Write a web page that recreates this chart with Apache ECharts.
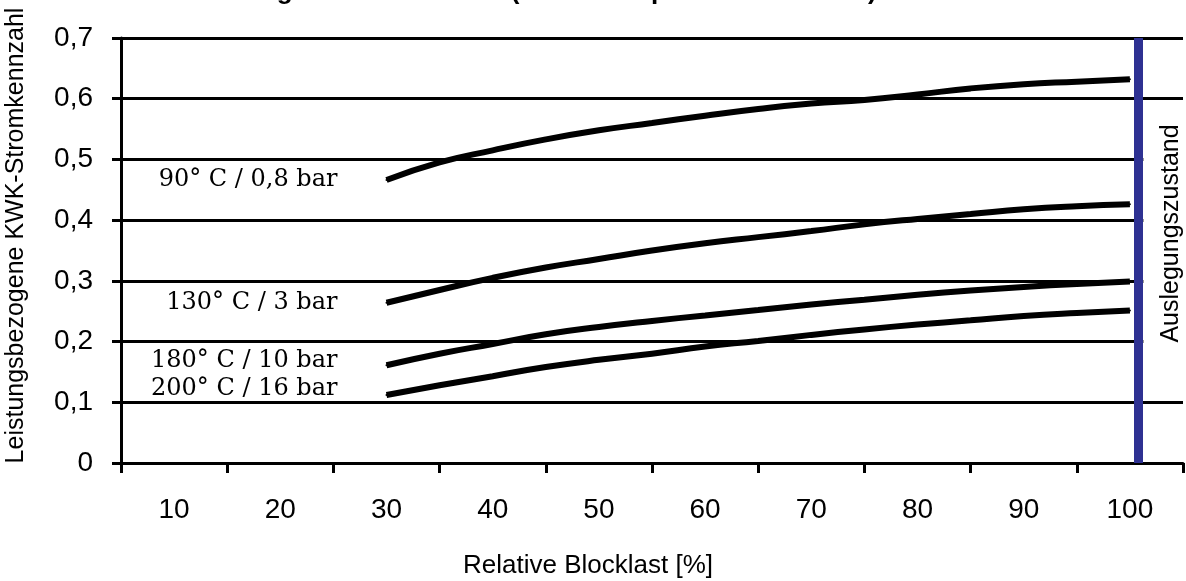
<!DOCTYPE html>
<html>
<head>
<meta charset="utf-8">
<script src="https://cdn.jsdelivr.net/npm/echarts@6/dist/echarts.min.js"></script>
<style>
  html, body { margin: 0; padding: 0; background: #fff; }
  #chart { width: 1186px; height: 581px; }
</style>
</head>
<body>
<div id="chart"></div>
<script>
// relative block load [%] where the curves were read
const loadPct = [30, 35, 40, 45, 50, 55, 60, 65, 70, 75, 80, 85, 90, 95, 100];

// power-to-heat ratio per extraction condition
const kwk90 = [0.466, 0.495, 0.515, 0.533, 0.548, 0.560, 0.572, 0.583, 0.592, 0.598, 0.607, 0.617, 0.624, 0.628, 0.632];
const kwk130 = [0.264, 0.285, 0.305, 0.322, 0.336, 0.350, 0.362, 0.372, 0.382, 0.393, 0.402, 0.410, 0.418, 0.423, 0.426];
const kwk180 = [0.161, 0.180, 0.196, 0.212, 0.224, 0.234, 0.243, 0.252, 0.261, 0.269, 0.277, 0.284, 0.290, 0.295, 0.299];
const kwk200 = [0.112, 0.128, 0.143, 0.158, 0.170, 0.180, 0.192, 0.201, 0.211, 0.220, 0.228, 0.235, 0.242, 0.247, 0.251];

const xTickLabels = ['10', '20', '30', '40', '50', '60', '70', '80', '90', '100'];
const designLoad = 100.8;

const chart = echarts.init(document.getElementById('chart'));

function curve(values, labelText, offset) {
  return {
    type: 'line',
    xAxisIndex: 1,
    smooth: true,
    symbol: 'circle',
    symbolSize: 2,
    showAllSymbol: true,
    itemStyle: { color: '#000' },
    lineStyle: { color: '#000', width: 6 },
    label: { show: false },
    data: values.map((v, i) => {
      if (i !== 0) {
        return [loadPct[i], v];
      }
      return {
        value: [loadPct[i], v],
        label: {
          show: true,
          formatter: labelText,
          position: 'left',
          distance: 48,
          offset: offset,
          fontFamily: 'DejaVu Serif',
          fontSize: 24,
          color: '#000',
        },
      };
    }),
  };
}

chart.setOption({
  animation: false,
  title: {
    text: 'ausgeführten Prozess (Frischdampf 535°C / 180 bar)',
    left: 232,
    top: -21,
    padding: 0,
    textStyle: {
      fontFamily: 'Liberation Sans',
      fontWeight: 'bold',
      fontSize: 26,
      color: '#000',
    },
  },
  grid: {
    left: 121,
    right: 3,
    top: 38,
    bottom: 118,
    outerBoundsMode: 'none',
  },
  xAxis: [
    {
      type: 'category',
      data: xTickLabels,
      boundaryGap: true,
      name: 'Relative Blocklast [%]',
      nameLocation: 'middle',
      nameGap: 90,
      nameTextStyle: {
        fontFamily: 'Liberation Sans',
        fontSize: 26,
        color: '#000',
        padding: [0, 128, 0, 0],
      },
      axisLine: { lineStyle: { color: '#000', width: 3 } },
      axisTick: { show: true, length: 10, interval: 0, lineStyle: { color: '#000', width: 3 } },
      axisLabel: {
        margin: 33,
        fontFamily: 'Liberation Sans',
        fontSize: 28,
        color: '#000',
      },
      splitLine: { show: false },
    },
    {
      type: 'value',
      min: 5,
      max: 105,
      show: false,
      splitLine: { show: false },
    },
  ],
  yAxis: {
    type: 'value',
    min: 0,
    max: 0.7,
    interval: 0.1,
    name: 'Leistungsbezogene KWK-Stromkennzahl',
    nameLocation: 'middle',
    nameGap: 92,
    nameTextStyle: {
      fontFamily: 'Liberation Sans',
      fontSize: 25,
      color: '#000',
      padding: [0, 0, 0, 30],
    },
    axisLine: { show: true, lineStyle: { color: '#000', width: 3 } },
    axisTick: { show: true, length: 9, lineStyle: { color: '#000', width: 3 } },
    axisLabel: {
      margin: 28,
      fontFamily: 'Liberation Sans',
      fontSize: 28,
      color: '#000',
      formatter: (v) => String(Math.round(v * 10) / 10).replace('.', ','),
    },
    splitLine: { show: true, lineStyle: { color: '#000', width: 3 } },
  },
  series: [
    curve(kwk90, '90° C / 0,8 bar', [0, 0]),
    curve(kwk130, '130° C / 3 bar', [0, 0]),
    curve(kwk180, '180° C / 10 bar', [0, -4]),
    curve(kwk200, '200° C / 16 bar', [0, -6]),
    {
      type: 'line',
      xAxisIndex: 1,
      data: [],
      z: 5,
      markLine: {
        silent: true,
        animation: false,
        symbol: 'none',
        lineStyle: { color: '#2E3192', width: 9, type: 'solid' },
        label: {
          show: true,
          formatter: 'Auslegungszustand',
          position: 'insideMiddleBottom',
          distance: 5,
          fontFamily: 'Liberation Sans',
          fontSize: 25,
          color: '#000',
          backgroundColor: '#fff',
          padding: [15, 12, 10, 46],
        },
        data: [{ xAxis: designLoad }],
      },
    },
  ],
});
</script>
</body>
</html>
